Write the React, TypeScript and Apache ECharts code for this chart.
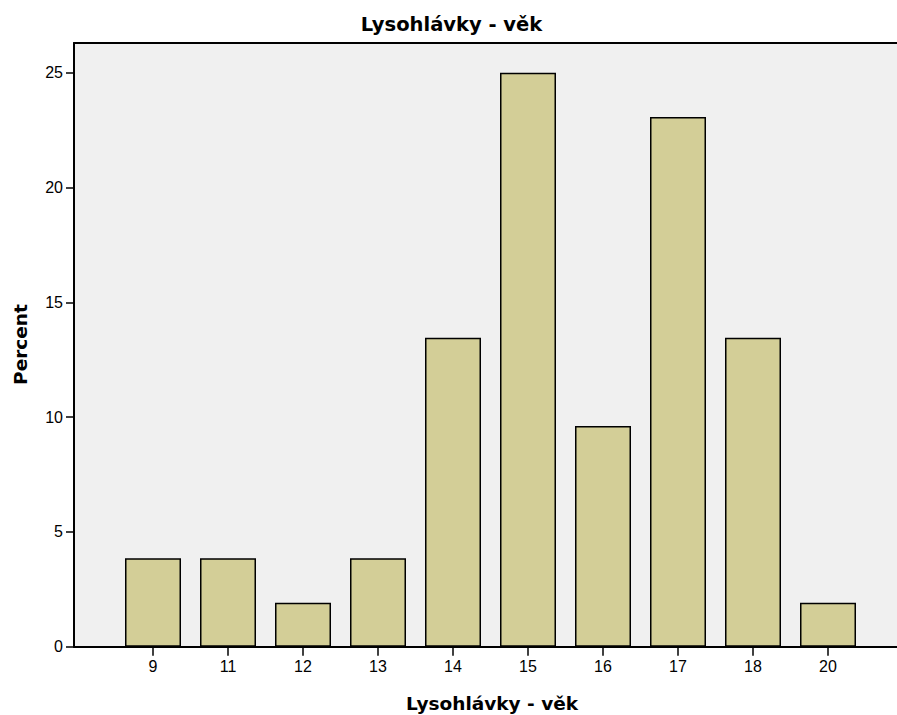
import React, { useEffect, useRef } from "react";
import * as echarts from "echarts";

const categories = ["9", "11", "12", "13", "14", "15", "16", "17", "18", "20"];
const percentValues = [3.85, 3.85, 1.92, 3.85, 13.46, 25.0, 9.62, 23.08, 13.46, 1.92];
const yTicks = [0, 5, 10, 15, 20, 25];
const titleText = "Lysohlávky - věk";
const xName = "Lysohlávky - věk";
const yName = "Percent";

export default function App() {
  const ref = useRef<HTMLDivElement>(null);
  useEffect(() => {
    document.body.style.margin = "0";
    const chart = echarts.init(ref.current!, null, { renderer: "svg" });
    const frameAxis = (position: string) => ({
      gridIndex: 0,
      type: "value",
      position,
      min: 0,
      max: 1,
      axisLine: { show: true, lineStyle: { color: "#000", width: 2 } },
      axisTick: { show: false },
      axisLabel: { show: false },
      splitLine: { show: false },
    });
    chart.setOption({
      animation: false,
      backgroundColor: "#ffffff",
      grid: [
        {
          left: 74,
          top: 43,
          right: 0,
          bottom: 68.3,
          show: true,
          backgroundColor: "#f0f0f0",
          borderWidth: 0,
        },
        {
          left: 115.5,
          width: 750,
          top: 43,
          bottom: 68.3,
          show: false,
        },
      ],
      xAxis: [
        frameAxis("bottom"),
        {
          gridIndex: 1,
          type: "category",
          data: categories,
          axisLine: { show: false },
          axisTick: {
            show: true,
            alignWithLabel: true,
            length: 9,
            lineStyle: { color: "#000", width: 1.5 },
          },
          axisLabel: {
            color: "#000",
            fontFamily: "Liberation Sans",
            fontSize: 16,
            margin: 12,
          },
        },
        frameAxis("top"),
      ],
      yAxis: [
        {
          gridIndex: 0,
          type: "value",
          min: 0,
          max: 26.3,
          interval: 5,
          axisLine: { show: true, lineStyle: { color: "#000", width: 2 } },
          axisTick: { show: true, length: 8, lineStyle: { color: "#000", width: 1.5 } },
          axisLabel: {
            color: "#000",
            fontFamily: "Liberation Sans",
            fontSize: 16,
            margin: 11,
            showMaxLabel: false,
            formatter: (v: number) => (yTicks.includes(v) ? String(v) : ""),
          },
          splitLine: { show: false },
        },
        {
          gridIndex: 1,
          type: "value",
          min: 0,
          max: 26.3,
          show: false,
        },
      ],
      series: [
        {
          type: "bar",
          xAxisIndex: 1,
          yAxisIndex: 1,
          data: percentValues,
          barWidth: 56,
          itemStyle: { color: "#d3ce97", borderColor: "#000", borderWidth: 1.5 },
        },
      ],
      graphic: [
        {
          type: "text",
          x: 451.5,
          y: 24.5,
          style: { text: titleText, font: "bold 19.5px 'DejaVu Sans'", fill: "#000", textAlign: "center", textVerticalAlign: "middle" },
        },
        {
          type: "text",
          x: 492,
          y: 703,
          style: { text: xName, font: "bold 18.5px 'DejaVu Sans'", fill: "#000", textAlign: "center", textVerticalAlign: "middle" },
        },
        {
          type: "text",
          x: 20,
          y: 344.5,
          rotation: Math.PI / 2,
          style: { text: yName, font: "bold 18.5px 'DejaVu Sans'", fill: "#000", textAlign: "center", textVerticalAlign: "middle" },
        },
      ],
    });
    return () => chart.dispose();
  }, []);
  return <div ref={ref} style={{ width: 897, height: 715 }} />;
}
